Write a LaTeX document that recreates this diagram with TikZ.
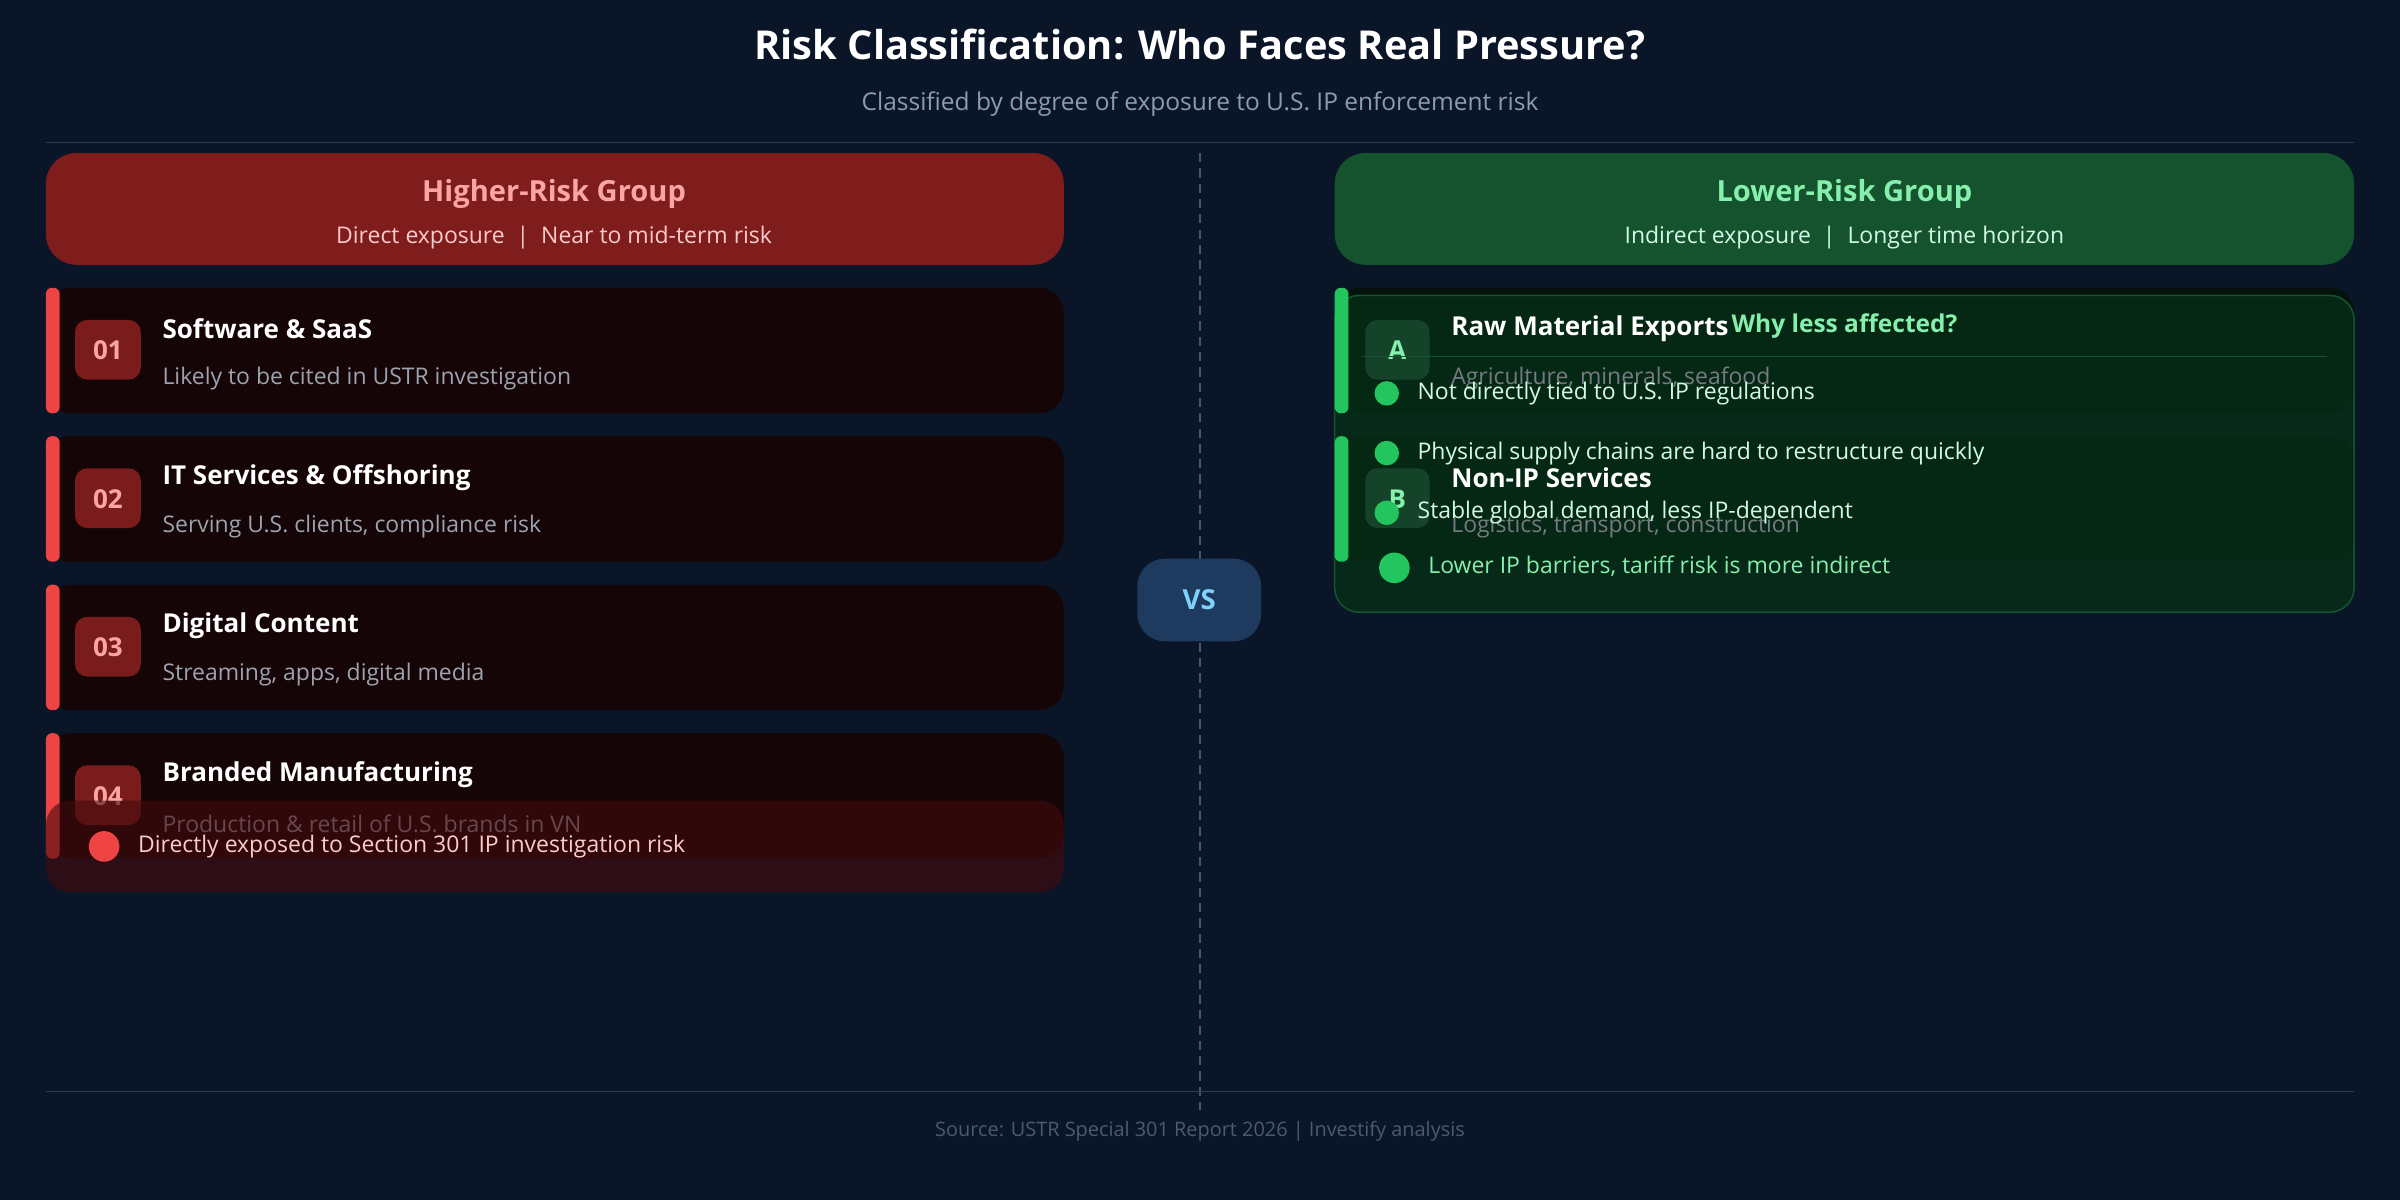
\documentclass[tikz,border=0pt]{standalone}
\usepackage{fontspec}
\setmainfont{Open Sans}
\definecolor{bg}{HTML}{0A1628}
\definecolor{rule}{HTML}{2A3A50}
\definecolor{redhd}{HTML}{7F1D1D}
\definecolor{redcard}{HTML}{150507}
\definecolor{redbar}{HTML}{EF4444}
\definecolor{redbadge}{HTML}{7A1C1C}
\definecolor{redtxt}{HTML}{FCA5A5}
\definecolor{redlt}{HTML}{FECACA}
\definecolor{rednote}{HTML}{450A0C}
\definecolor{grnhd}{HTML}{14532D}
\definecolor{grncard}{HTML}{04120C}
\definecolor{grnbar}{HTML}{22C55E}
\definecolor{grnbadge}{HTML}{14432A}
\definecolor{grntxt}{HTML}{86EFAC}
\definecolor{grnlt}{HTML}{D1FAE5}
\definecolor{grnov}{HTML}{052E16}
\definecolor{graytxt}{HTML}{9CA3AF}
\definecolor{subtxt}{HTML}{8B9BB4}
\definecolor{vsbox}{HTML}{1E3A5F}
\definecolor{vstxt}{HTML}{7DD3FC}
\definecolor{foot}{HTML}{4B5A70}
\tikzset{
 cardtitle/.style={anchor=west,text=white,font=\fontsize{17}{20}\selectfont\bfseries,inner sep=0},
 cardsub/.style={anchor=west,text=graytxt,font=\fontsize{15}{18}\selectfont,inner sep=0},
 bullettxt/.style={anchor=west,text=grnlt,font=\fontsize{15}{18}\selectfont,inner sep=0},
 badgetxt/.style={font=\fontsize{17}{20}\selectfont\bfseries,inner sep=0},
}
\begin{document}
\begin{tikzpicture}[x=1pt,y=-1pt]
\fill[bg] (0,0) rectangle (1568,784);
\node[text=white,font=\fontsize{26}{30}\selectfont\bfseries] (title) at (784,29) {Risk Classification: Who Faces Real Pressure?};
\node[text=subtxt,font=\fontsize{16}{19}\selectfont] (sub) at (784,68) {Classified by degree of exposure to U.S. IP enforcement risk};
\draw[rule,line width=1pt] (30,93) -- (1538,93);
% center
\draw[vsbox!85!white,line width=1.2pt,dash pattern=on 6pt off 4pt] (784,100) -- (784,725);
\fill[vsbox,rounded corners=18pt] (743,365) rectangle (824,419);
\node[text=vstxt,font=\fontsize{18}{20}\selectfont\bfseries] (vs) at (783.5,392) {VS};
% left header
\fill[redhd,rounded corners=20pt] (30,100) rectangle (695,173);
\node[text=redtxt,font=\fontsize{19}{22}\selectfont\bfseries] (lh) at (362,127) {Higher-Risk Group};
\node[text=redlt,font=\fontsize{15}{18}\selectfont] (lhs) at (362,155) {Direct exposure~~|~~Near to mid-term risk};
% left cards
\foreach \y/\n/\t/\s in {188/01/Software \& SaaS/Likely to be cited in USTR investigation,
 285/02/IT Services \& Offshoring/{Serving U.S. clients, compliance risk},
 382/03/Digital Content/{Streaming, apps, digital media},
 479/04/Branded Manufacturing/Production \& retail of U.S. brands in VN}{
 \fill[redcard,rounded corners=16pt] (30,\y) rectangle (695,\y+82);
 \fill[redbar,rounded corners=4pt] (30,\y) rectangle (39,\y+82);
 \fill[redbadge,rounded corners=8pt] (49,\y+21) rectangle (92,\y+60);
 \node[badgetxt,text=redtxt] at (70.5,\y+41) {\n};
 \node[cardtitle] at (106,\y+27) {\t};
 \node[cardsub] at (106,\y+59) {\s};
}
\fill[rednote,rounded corners=16pt,opacity=0.6] (30,523) rectangle (695,583);
\fill[redbar] (68,553) circle (10);
\node[anchor=west,text=redlt,font=\fontsize{15}{18}\selectfont,inner sep=0] (ln) at (90,553) {Directly exposed to Section 301 IP investigation risk};
% right header
\fill[grnhd,rounded corners=20pt] (872,100) rectangle (1538,173);
\node[text=grntxt,font=\fontsize{19}{22}\selectfont\bfseries] (rh) at (1205,127) {Lower-Risk Group};
\node[text=grnlt,font=\fontsize{15}{18}\selectfont] (rhs) at (1205,155) {Indirect exposure~~|~~Longer time horizon};
% right cards backgrounds
\foreach \y in {188,285}{
 \fill[grncard,rounded corners=16pt] (872,\y) rectangle (1538,\y+82);
}
% overlay fill
\fill[grnov,rounded corners=16pt,opacity=0.8] (872,193) rectangle (1538,400);
\draw[grnhd,rounded corners=16pt,line width=1pt] (872,193) rectangle (1538,400);
% right card contents
\foreach \y/\n/\t/\s in {188/A/Raw Material Exports/{Agriculture, minerals, seafood},
 285/B/Non-IP Services/{Logistics, transport, construction}}{
 \fill[grnbar,rounded corners=4pt] (872,\y) rectangle (881,\y+82);
 \fill[grnbadge,rounded corners=8pt] (892,\y+21) rectangle (934,\y+60);
 \node[badgetxt,text=grntxt] at (913,\y+41) {\n};
 \node[cardtitle] at (948,\y+27) {\t};
 \node[cardsub,text=graytxt!75!black] at (948,\y+59) {\s};
}
\node[text=grntxt,font=\fontsize{16}{19}\selectfont\bfseries] (why) at (1205,213) {Why less affected?};
\draw[grnhd,line width=1pt] (890,233) -- (1520,233);
\foreach \y/\t in {257/Not directly tied to U.S. IP regulations,296/Physical supply chains are hard to restructure quickly,335/{Stable global demand, less IP-dependent}}{
 \fill[grnbar] (906,\y) circle (8);
 \node[bullettxt] at (926,\y) {\t};
}
\fill[grnbar] (911,371) circle (10);
\node[anchor=west,text=grntxt,font=\fontsize{15}{18}\selectfont,inner sep=0] (rn) at (933,370) {Lower IP barriers, tariff risk is more indirect};
% footer
\draw[rule,line width=1pt] (30,713) -- (1538,713);
\node[text=foot,font=\fontsize{13}{16}\selectfont] (src) at (784,739) {Source: USTR Special 301 Report 2026 | Investify analysis};
\end{tikzpicture}
\end{document}
